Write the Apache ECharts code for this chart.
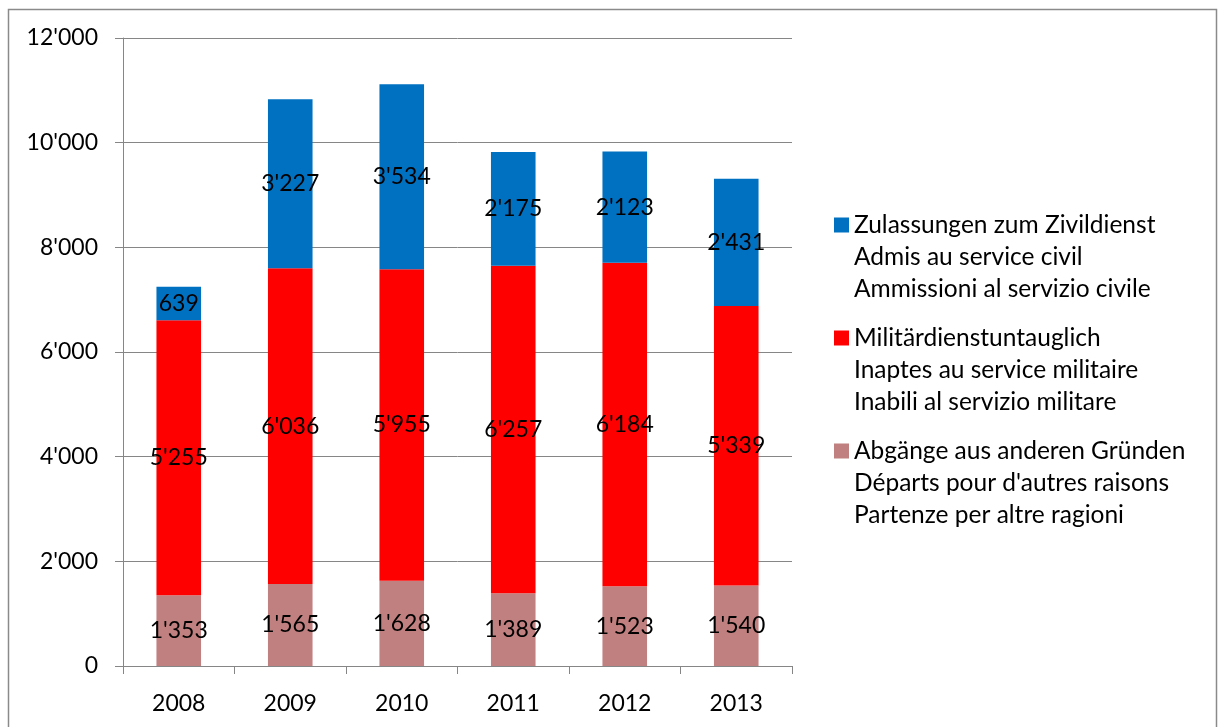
<!DOCTYPE html>
<html>
<head>
<meta charset="utf-8">
<script src="https://cdn.jsdelivr.net/npm/echarts@6/dist/echarts.min.js"></script>
<style>
  html, body { margin: 0; padding: 0; background: #fff; }
  #chart { width: 1218px; height: 727px; }
</style>
</head>
<body>
<div id="chart"></div>
<script>
// Years on the category axis
const years = ['2008', '2009', '2010', '2011', '2012', '2013'];

// Series names (German / French / Italian)
const nameZivil = 'Zulassungen zum Zivildienst\nAdmis au service civil\nAmmissioni al servizio civile';
const nameUntauglich = 'Militärdienstuntauglich\nInaptes au service militaire\nInabili al servizio militare';
const nameAndere = 'Abgänge aus anderen Gründen\nDéparts pour d\'autres raisons\nPartenze per altre ragioni';

// Values per year
const zivildienst = [639, 3227, 3534, 2175, 2123, 2431];
const untauglich = [5255, 6036, 5955, 6257, 6184, 5339];
const andere = [1353, 1565, 1628, 1389, 1523, 1540];

// Value axis range
const yMin = 0;
const yMax = 12000;
const yStep = 2000;

const FONT = 'Lato, "Open Sans", sans-serif';
const AXIS_GREY = '#868686';
const LABEL_SIZE = 23;

// Swiss-style thousands separator: 12'000
function fmt(v) {
  return String(v).replace(/\B(?=(\d{3})+(?!\d))/g, "'");
}

const labelStyle = {
  show: true,
  position: 'inside',
  color: '#000',
  fontSize: LABEL_SIZE,
  fontFamily: FONT,
  formatter: function (p) { return fmt(p.value); }
};

function barSeries(name, data, color) {
  return {
    name: name,
    type: 'bar',
    stack: 'total',
    barWidth: '40%',
    data: data,
    itemStyle: { color: color },
    label: labelStyle,
    emphasis: { disabled: true },
    animation: false
  };
}

const chart = echarts.init(document.getElementById('chart'), null, { renderer: 'canvas' });

chart.setOption({
  backgroundColor: '#fff',
  animation: false,
  textStyle: { fontFamily: FONT },
  grid: { left: 123, right: 426, top: 38, bottom: 61 },
  graphic: [{
    type: 'rect',
    silent: true,
    shape: { x: 8.5, y: 9.5, width: 1208, height: 740 },
    style: { fill: null, stroke: '#8a8a8a', lineWidth: 1.5 },
    z: -10
  }],
  legend: {
    orient: 'vertical',
    left: 834,
    top: 145,
    padding: 0,
    itemWidth: 15,
    itemHeight: 15,
    itemGap: -47,
    icon: 'rect',
    selectedMode: false,
    data: [nameZivil, nameUntauglich, nameAndere],
    // two leading blank lines put the first name line level with the swatch
    formatter: function (name) { return '\n\n' + name; },
    textStyle: {
      color: '#000',
      fontSize: 24.5,
      lineHeight: 32,
      fontFamily: FONT
    }
  },
  xAxis: {
    type: 'category',
    data: years,
    axisLine: { show: true, lineStyle: { color: AXIS_GREY, width: 1 } },
    axisTick: { show: true, length: 8, inside: false, lineStyle: { color: AXIS_GREY } },
    axisLabel: { color: '#000', fontSize: LABEL_SIZE, fontFamily: FONT, margin: 26 }
  },
  yAxis: {
    type: 'value',
    min: yMin,
    max: yMax,
    interval: yStep,
    axisLine: { show: true, lineStyle: { color: AXIS_GREY, width: 1 } },
    axisTick: { show: true, length: 8, lineStyle: { color: AXIS_GREY } },
    splitLine: { show: true, lineStyle: { color: AXIS_GREY, width: 1 } },
    axisLabel: {
      color: '#000',
      fontSize: LABEL_SIZE,
      fontFamily: FONT,
      margin: 25,
      formatter: function (v) { return fmt(v); }
    }
  },
  series: [
    barSeries(nameAndere, andere, '#C0807F'),
    barSeries(nameUntauglich, untauglich, '#FF0000'),
    barSeries(nameZivil, zivildienst, '#0070C0')
  ]
});
</script>
</body>
</html>
